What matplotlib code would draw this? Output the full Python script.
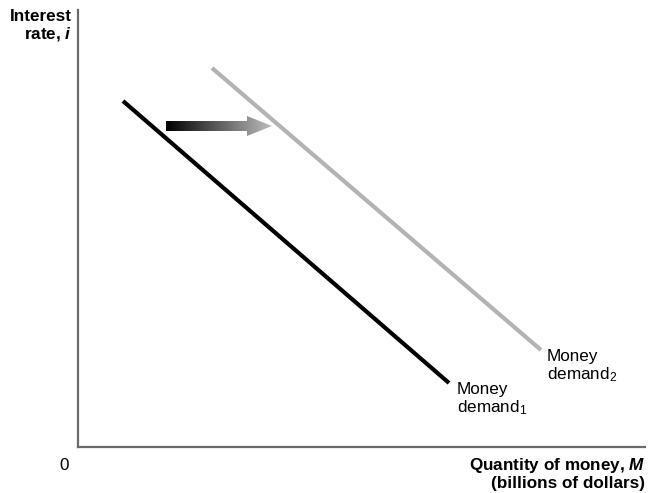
import numpy as np
import matplotlib
matplotlib.use("Agg")
import matplotlib.pyplot as plt
from matplotlib.path import Path
from matplotlib.patches import PathPatch

plt.rcParams["font.family"] = ["Liberation Sans", "DejaVu Sans"]
plt.rcParams["mathtext.fontset"] = "custom"
plt.rcParams["mathtext.rm"] = "Liberation Sans"
plt.rcParams["mathtext.it"] = "Liberation Sans:bold:italic"
plt.rcParams["mathtext.bf"] = "Liberation Sans:bold"

# Demand curves (quantity, interest rate) in chart units
md1_x = [45, 371]
md1_y = [346, 64]
md2_x = [134, 463]
md2_y = [379, 97]

# Shift arrow: start x, end x, y level
arrow_x = [88, 194]
arrow_y = 321

W, H = 648, 493
fig = plt.figure(figsize=(W / 100, H / 100), dpi=100)
ax = fig.add_axes([78 / W, 46 / H, 567 / W, 437 / H])
ax.set_xlim(0, 567)
ax.set_ylim(0, 437)

for side in ("top", "right"):
    ax.spines[side].set_visible(False)
for side in ("left", "bottom"):
    ax.spines[side].set_color("#6a6a6a")
    ax.spines[side].set_linewidth(1.6)
ax.set_xticks([])
ax.set_yticks([])

ax.plot(md1_x, md1_y, color="black", lw=3.0, solid_capstyle="butt")
ax.plot(md2_x, md2_y, color="#b3b3b3", lw=3.0, solid_capstyle="butt")

# Gradient arrow
x0, x1 = arrow_x
body, head, head_len = 5, 10, 25
verts = [(x0, arrow_y - body), (x1 - head_len, arrow_y - body),
         (x1 - head_len, arrow_y - head), (x1, arrow_y),
         (x1 - head_len, arrow_y + head), (x1 - head_len, arrow_y + body),
         (x0, arrow_y + body), (x0, arrow_y - body)]
path = Path(verts, [Path.MOVETO] + [Path.LINETO] * 6 + [Path.CLOSEPOLY])
patch = PathPatch(path, facecolor="none", edgecolor="none")
ax.add_patch(patch)
grad = np.linspace(0, 1, 256).reshape(1, -1)
cmap = matplotlib.colors.LinearSegmentedColormap.from_list("g", ["#000000", "#bdbdbd"])
im = ax.imshow(grad, cmap=cmap, aspect="auto",
               extent=[x0, x1, arrow_y - head, arrow_y + head], zorder=3)
im.set_clip_path(patch)
ax.set_xlim(0, 567)
ax.set_ylim(0, 437)

fs = 12.3
ax.text(379, 65, "Money\ndemand$_1$", fontsize=fs, ha="left", va="top",
        linespacing=1.1)
ax.text(469, 98, "Money\ndemand$_2$", fontsize=fs, ha="left", va="top",
        linespacing=1.1)

ax.text(-6, 438, "Interest\nrate, $i$", fontsize=fs, fontweight="bold",
        ha="right", va="top", multialignment="right", linespacing=1.1,
        clip_on=False)
ax.text(567, -9, "Quantity of money, $M$\n(billions of dollars)", fontsize=fs,
        fontweight="bold", ha="right", va="top", multialignment="right",
        linespacing=1.1, clip_on=False)
ax.text(-14, -11, "0", fontsize=fs, ha="center", va="top", clip_on=False)

fig.savefig("out.png", dpi=100)
